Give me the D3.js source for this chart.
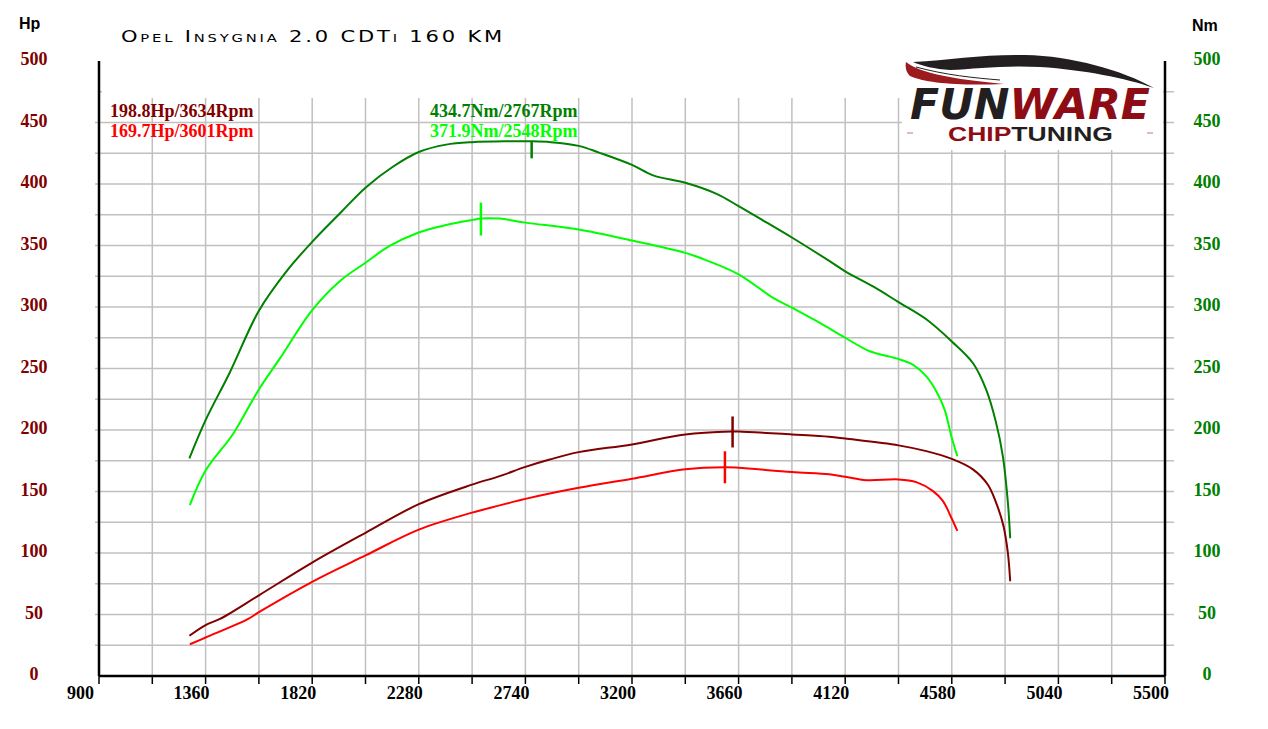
<!DOCTYPE html>
<html>
<head>
<meta charset="utf-8">
<script src="https://cdn.jsdelivr.net/npm/d3@7"></script>
<style>
  body { margin: 0; background: #fff; }
  svg { display: block; }
  .tickLabel { font-family: "Liberation Serif", serif; font-weight: bold; font-size: 18px; }
  .legend { font-family: "Liberation Serif", serif; font-weight: bold; font-size: 18px; }
  .unit { font-family: "Liberation Sans", Arial, sans-serif; font-weight: bold; font-size: 16px; }
</style>
</head>
<body>
<div id="chart"></div>
<script>
// tuned / stock torque (Nm) and power (Hp)
let tqTunedRpm = [1290, 1360, 1465, 1590, 1709, 1820, 1939, 2050, 2168, 2280, 2398, 2510, 2671, 2767, 2850, 2970, 3058, 3200, 3291, 3430, 3565, 3660, 3778, 3890, 4051, 4120, 4240, 4350, 4470, 4580, 4671, 4728, 4771, 4800, 4822, 4832];
let tqTunedVal = [177, 208, 247, 297, 329, 353, 376, 397, 414, 426, 432, 434, 434.7, 434.7, 434, 431, 425.5, 415.5, 407, 401, 392, 382, 369, 356.5, 337.5, 329, 316.7, 304, 290, 272, 254.5, 233, 206, 179, 141, 112];

let tqStockRpm = [1292, 1360, 1479, 1590, 1680, 1820, 1939, 2050, 2154, 2280, 2398, 2510, 2548, 2629, 2740, 2970, 3200, 3430, 3493, 3660, 3807, 3890, 4011, 4120, 4226, 4350, 4413, 4470, 4513, 4549, 4578, 4604];
let tqStockVal = [139, 167, 197, 233, 258, 297.5, 321, 336, 349.6, 360.6, 366.6, 370.7, 371.9, 371.9, 368.6, 363, 354, 344, 340, 326.6, 307.6, 299.5, 287, 275, 264, 257.7, 253, 243.6, 231.5, 216.6, 195, 178.7];

let hpTunedRpm = [1290, 1360, 1422, 1590, 1820, 2050, 2280, 2510, 2629, 2740, 2845, 2970, 3200, 3430, 3634, 3660, 3890, 4051, 4120, 4350, 4470, 4580, 4671, 4735, 4771, 4803, 4822, 4832];
let hpTunedVal = [32.7, 41.4, 46.4, 65.6, 92.2, 116.4, 139.7, 155.6, 162.5, 170, 176, 182, 188.3, 196.4, 198.8, 198.8, 196.4, 194.5, 193, 187.5, 182.8, 176.5, 168, 155.7, 141, 122, 100, 77];

let hpStockRpm = [1292, 1360, 1540, 1590, 1820, 2050, 2280, 2510, 2629, 2740, 2970, 3200, 3430, 3601, 3660, 3890, 4051, 4120, 4212, 4350, 4427, 4499, 4542, 4578, 4604];
let hpStockVal = [25.8, 31.3, 46, 51.9, 76.6, 98, 119, 132.8, 138.7, 144, 153, 160.4, 168, 169.7, 169.3, 165.8, 164, 162, 159.2, 159.8, 157.6, 150.3, 142.2, 128.7, 118];

let peakNames = ['hpTuned', 'hpStock', 'tqTuned', 'tqStock'];
let peakVal = [198.8, 169.7, 434.7, 371.9];
let peakRpm = [3634, 3601, 2767, 2548];
let peakUnit = ['Hp', 'Hp', 'Nm', 'Nm'];

let rpmTicks = [900, 1360, 1820, 2280, 2740, 3200, 3660, 4120, 4580, 5040, 5500];
let valTicks = [0, 50, 100, 150, 200, 250, 300, 350, 400, 450, 500];
let titleText = 'Opel Insygnia 2.0 CDTi 160 KM';

const width = 1268, height = 729;
const colors = { hpTuned: '#800000', hpStock: '#ff0000', tqTuned: '#008000', tqStock: '#00ff00' };

let svg = d3.select('#chart').append('svg')
  .attr('width', width)
  .attr('height', height);

let x = d3.scaleLinear().domain([900, 5500]).range([99, 1165]);
let y = d3.scaleLinear().domain([0, 500]).range([676, 61]);

// grid
let grid = svg.append('g').attr('stroke', '#c0c0c0').attr('stroke-width', 1.5);
grid.selectAll('line.v')
  .data(d3.range(1130, 5500, 230))
  .enter().append('line')
  .attr('x1', d => x(d)).attr('x2', d => x(d))
  .attr('y1', y(470)).attr('y2', y(0));
grid.selectAll('line.h')
  .data(d3.range(25, 451, 25))
  .enter().append('line')
  .attr('x1', x(900) - 4).attr('x2', x(5500) + 9)
  .attr('y1', d => y(d)).attr('y2', d => y(d));
grid.selectAll('line.t')
  .data([[x(900), x(900) + 3], [x(5500) - 4, x(5500) + 9]])
  .enter().append('line')
  .attr('x1', d => d[0]).attr('x2', d => d[1])
  .attr('y1', y(475)).attr('y2', y(475));

// logo (covers the grid)
let logo = svg.append('g');
logo.append('rect')
  .attr('x', 902).attr('y', 48).attr('width', 261).attr('height', 102)
  .attr('fill', '#fff');
logo.append('path')
  .attr('d', 'M913,62 C950,60 985,54 1025,55 C1072,56 1122,70 1154,88 C1125,78 1085,70 1040,67 C1005,65 975,69 950,70 C935,69 922,66 913,62 Z')
  .attr('fill', '#231f20');
logo.append('path')
  .attr('d', 'M906,62 C920,73 952,79 1004,84 C960,86 925,83 910,76 C906,72 905,67 906,62 Z')
  .attr('fill', '#9b1b1f');
logo.append('path')
  .attr('d', 'M916,67 C945,75 975,78 1000,80')
  .attr('fill', 'none').attr('stroke', '#231f20').attr('stroke-width', 1);
let fw = logo.append('text')
  .attr('x', 910).attr('y', 119)
  .attr('textLength', 240).attr('lengthAdjust', 'spacingAndGlyphs')
  .style('font-family', '"DejaVu Sans", sans-serif')
  .style('font-weight', 'bold').style('font-style', 'italic')
  .style('font-size', '43px');
fw.append('tspan').attr('fill', '#231f20').text('FUN');
fw.append('tspan').attr('fill', '#8e0c14').text('WARE');
let ct = logo.append('text')
  .attr('x', 948).attr('y', 141)
  .attr('textLength', 165).attr('lengthAdjust', 'spacingAndGlyphs')
  .style('font-family', '"Liberation Sans", Arial, sans-serif')
  .style('font-weight', 'bold')
  .style('font-size', '20px');
ct.append('tspan').attr('fill', '#8e0c14').text('CHIP');
ct.append('tspan').attr('fill', '#231f20').text('TUNING');
logo.selectAll('line.dash')
  .data([907, 1147])
  .enter().append('line')
  .attr('x1', d => d).attr('x2', d => d + 6)
  .attr('y1', 133).attr('y2', 133)
  .attr('stroke', '#d9a3a3').attr('stroke-width', 1.5);

// axes
let axis = svg.append('g').attr('stroke', '#000').attr('stroke-width', 2.5);
axis.append('line').attr('x1', x(900)).attr('x2', x(900)).attr('y1', y(500)).attr('y2', y(0));
axis.append('line').attr('x1', x(5500)).attr('x2', x(5500)).attr('y1', y(500)).attr('y2', y(0));
axis.append('line').attr('x1', x(900)).attr('x2', x(5500)).attr('y1', y(0)).attr('y2', y(0));
svg.append('g').attr('stroke', '#000').attr('stroke-width', 1.5)
  .selectAll('line')
  .data(d3.range(900, 5501, 230))
  .enter().append('line')
  .attr('x1', d => x(d)).attr('x2', d => x(d))
  .attr('y1', y(0)).attr('y2', y(0) + 8);

svg.selectAll('text.xLabel')
  .data(rpmTicks)
  .enter().append('text')
  .attr('class', 'tickLabel xLabel')
  .attr('x', d => x(d) - 32)
  .attr('y', 699)
  .attr('fill', '#000')
  .text(d => d);

svg.selectAll('text.yLeft')
  .data(valTicks)
  .enter().append('text')
  .attr('class', 'tickLabel yLeft')
  .attr('x', 34)
  .attr('y', d => y(d) + 4)
  .attr('text-anchor', 'middle')
  .attr('fill', '#800000')
  .text(d => d);

svg.selectAll('text.yRight')
  .data(valTicks)
  .enter().append('text')
  .attr('class', 'tickLabel yRight')
  .attr('x', 1207)
  .attr('y', d => y(d) + 4)
  .attr('text-anchor', 'middle')
  .attr('fill', '#008000')
  .text(d => d);

svg.append('text').attr('class', 'unit').attr('x', 19).attr('y', 29).text('Hp');
svg.append('text').attr('class', 'unit').attr('x', 1192).attr('y', 31).text('Nm');

// title in small caps: lower case letters drawn as smaller capitals
let title = svg.append('text')
  .attr('x', 121).attr('y', 41.5)
  .attr('textLength', 384).attr('lengthAdjust', 'spacingAndGlyphs')
  .style('font-family', '"DejaVu Sans", sans-serif')
  .style('letter-spacing', '2px')
  .attr('fill', '#000');
title.selectAll('tspan')
  .data(titleText.split(''))
  .enter().append('tspan')
  .style('font-size', c => (c !== c.toUpperCase() ? '10.5px' : '15px'))
  .text(c => c.toUpperCase());

// curves
let series = [
  { key: 'tqTuned', rpm: tqTunedRpm, val: tqTunedVal },
  { key: 'tqStock', rpm: tqStockRpm, val: tqStockVal },
  { key: 'hpTuned', rpm: hpTunedRpm, val: hpTunedVal },
  { key: 'hpStock', rpm: hpStockRpm, val: hpStockVal }
];

let line = d3.line()
  .x(d => x(d[0]))
  .y(d => y(d[1]))
  .curve(d3.curveCatmullRom.alpha(0.5));

svg.selectAll('path.curve')
  .data(series)
  .enter().append('path')
  .attr('class', 'curve')
  .attr('d', s => line(d3.zip(s.rpm, s.val)))
  .attr('fill', 'none')
  .attr('stroke', s => colors[s.key])
  .attr('stroke-width', 2);

// peak markers (pixel extent above / below the curve)
const markUp = { hpTuned: 15, hpStock: 16, tqTuned: 0, tqStock: 16 };
const markDown = { hpTuned: 16, hpStock: 16, tqTuned: 17, tqStock: 17 };

svg.selectAll('line.peak')
  .data(peakNames)
  .enter().append('line')
  .attr('class', 'peak')
  .attr('x1', (d, i) => x(peakRpm[i])).attr('x2', (d, i) => x(peakRpm[i]))
  .attr('y1', (d, i) => y(peakVal[i]) - markUp[d])
  .attr('y2', (d, i) => y(peakVal[i]) + markDown[d])
  .attr('stroke', d => colors[d])
  .attr('stroke-width', 2.5);

// peak legend
const legendPos = { hpTuned: [110, 117], hpStock: [110, 137], tqTuned: [430, 117], tqStock: [430, 137] };
svg.selectAll('text.legend')
  .data(peakNames)
  .enter().append('text')
  .attr('class', 'legend')
  .attr('x', d => legendPos[d][0])
  .attr('y', d => legendPos[d][1])
  .attr('fill', d => colors[d])
  .text((d, i) => `${peakVal[i].toFixed(1)}${peakUnit[i]}/${peakRpm[i]}Rpm`);
</script>
</body>
</html>
